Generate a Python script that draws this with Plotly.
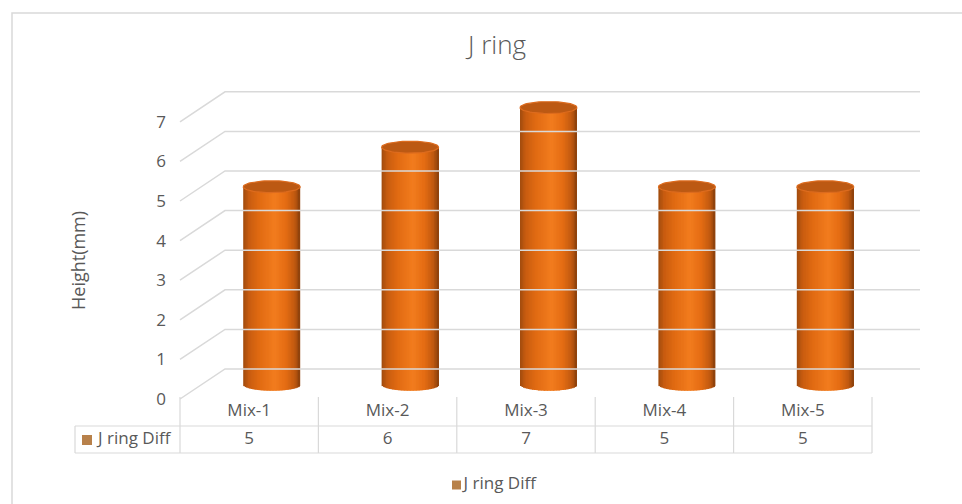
import numpy as np
import plotly.graph_objects as go

# ---- data -------------------------------------------------------------
categories = ["Mix-1", "Mix-2", "Mix-3", "Mix-4", "Mix-5"]
values = [5, 6, 7, 5, 5]
series_name = "J ring Diff"
y_ticks = [0, 1, 2, 3, 4, 5, 6, 7]
chart_title = "J ring"
y_title = "Height(mm)"

# ---- geometry (axis units) ---------------------------------------------
W, H = 962, 504
U_PX = 138.4           # pixels per category slot
V_PX = 39.6            # pixels per value unit
X0_PX, Y0_PX = 180, 399  # front-left corner of the floor
DX = 45 / U_PX         # depth offset of the back wall
DZ = 30 / V_PX
X_END = (920 - X0_PX) / U_PX

def u(px):
    return (px - X0_PX) / U_PX

def v(py):
    return (Y0_PX - py) / V_PX

x_range = [u(0), u(W)]
y_range = [v(H), v(0)]

FONT = "Open Sans"
TXT = "#595959"
GRID = "#D9D9D9"
KEY = "#B8814A"

fig = go.Figure()

# ---- back wall gridlines with side-wall diagonals ----------------------
gx, gy = [], []
for t in y_ticks:
    gx += [0, DX, X_END, None]
    gy += [t, t + DZ, t + DZ, None]
fig.add_trace(go.Scatter(x=gx, y=gy, mode="lines",
                         line=dict(color=GRID, width=1.5),
                         hoverinfo="skip", showlegend=False))

# ---- cylinders: vertical strips with cylindrical shading ---------------
n = len(categories)
centers = np.arange(n) + 0.5 + DX / 2
cw = 57 / U_PX           # cylinder diameter
b0 = 0.36                # floor level at mid-depth
ry = 6 / V_PX            # vertical radius of the end ellipses

stops_t = [-1.0, -0.8, -0.45, 0.1, 0.5, 0.8, 1.0]
stops_c = [(0xA0, 0x4B, 0x0E), (0xC8, 0x5C, 0x10), (0xE0, 0x6A, 0x12),
           (0xF2, 0x7C, 0x1E), (0xE4, 0x6C, 0x13), (0xC2, 0x5A, 0x10),
           (0x8A, 0x40, 0x0B)]

def shade(t):
    rgb = [np.interp(t, stops_t, [c[k] for c in stops_c]) for k in range(3)]
    return "rgb(%d,%d,%d)" % tuple(int(round(c)) for c in rgb)

n_strips = 38
step = cw / n_strips
for k in range(n_strips):
    off = -cw / 2 + k * step
    tc = (off + step / 2) / (cw / 2)
    s = ry * np.sqrt(max(0.0, 1 - tc ** 2))
    width = min(step * 1.7, cw / 2 - off)
    fig.add_trace(go.Bar(
        x=centers, y=[val + s for val in values], base=b0 - s,
        offset=off, width=width,
        marker=dict(color=shade(tc), line=dict(width=0)),
        hoverinfo="skip", showlegend=False))

# top caps
th = np.linspace(0, 2 * np.pi, 73)
ex, ey = [], []
for c, val in zip(centers, values):
    ex += list(c + cw / 2 * np.cos(th)) + [None]
    ey += list(val + b0 + ry * np.sin(th)) + [None]
fig.add_trace(go.Scatter(x=ex, y=ey, mode="lines", fill="toself",
                         fillcolor="#BC5913",
                         line=dict(color="#DC6B1E", width=1.2),
                         hoverinfo="skip", showlegend=False))

# ---- data table ---------------------------------------------------------
r_top, r_mid, r_bot = v(397), v(426), v(453)
key_left = u(75)
tx, ty = [], []
for i in range(n + 1):
    tx += [i, i, None]
    ty += [r_top, r_bot, None]
tx += [key_left, n, None, key_left, n, None, key_left, key_left, None]
ty += [r_mid, r_mid, None, r_bot, r_bot, None, r_mid, r_bot, None]
fig.add_trace(go.Scatter(x=tx, y=ty, mode="lines",
                         line=dict(color=GRID, width=1.2),
                         hoverinfo="skip", showlegend=False))

fig.add_trace(go.Scatter(x=np.arange(n) + 0.5, y=[v(412)] * n,
                         mode="text", text=categories,
                         textfont=dict(family=FONT, size=17, color=TXT),
                         hoverinfo="skip", showlegend=False))
fig.add_trace(go.Scatter(x=np.arange(n) + 0.5, y=[v(440)] * n,
                         mode="text", text=[str(val) for val in values],
                         textfont=dict(family=FONT, size=17, color=TXT),
                         hoverinfo="skip", showlegend=False))

# series key inside the table
fig.add_trace(go.Scatter(x=[u(87)], y=[v(440)], mode="markers",
                         marker=dict(symbol="square", size=10, color=KEY),
                         hoverinfo="skip", showlegend=False))
fig.add_trace(go.Scatter(x=[u(98)], y=[v(440)], mode="text",
                         text=[series_name], textposition="middle right",
                         textfont=dict(family=FONT, size=17, color=TXT),
                         hoverinfo="skip", showlegend=False))

# legend below the chart
fig.add_trace(go.Scatter(x=[u(456.5)], y=[v(485)], mode="markers",
                         marker=dict(symbol="square", size=9, color=KEY),
                         hoverinfo="skip", showlegend=False))
fig.add_trace(go.Scatter(x=[u(463.5)], y=[v(485)], mode="text",
                         text=[series_name], textposition="middle right",
                         textfont=dict(family=FONT, size=17, color=TXT),
                         hoverinfo="skip", showlegend=False))

# carrier for the value axis
fig.add_trace(go.Scatter(x=[0], y=[0], yaxis="y2", mode="markers",
                         marker=dict(opacity=0), hoverinfo="skip",
                         showlegend=False))

fig.update_layout(
    width=W, height=H,
    margin=dict(l=0, r=0, t=0, b=0),
    paper_bgcolor="white", plot_bgcolor="rgba(0,0,0,0)",
    barmode="overlay",
    xaxis=dict(range=x_range, visible=False, fixedrange=True),
    yaxis=dict(range=y_range, visible=False, fixedrange=True),
    yaxis2=dict(range=y_range, overlaying="y", anchor="free",
                position=X0_PX / W, side="left",
                tickvals=y_ticks, showgrid=False, zeroline=False,
                showline=False, ticks="", ticklabelstandoff=14,
                tickfont=dict(family=FONT, size=17, color=TXT),
                fixedrange=True),
    title=dict(text=chart_title, x=497 / W, xanchor="center",
               y=1 - 45 / H, yanchor="middle", yref="container",
               font=dict(family=FONT, size=26, color=TXT, weight=300)),
    annotations=[dict(text=y_title, x=78 / W, y=1 - 261 / H,
                      xref="paper", yref="paper", showarrow=False,
                      textangle=-90, xanchor="center", yanchor="middle",
                      font=dict(family=FONT, size=18, color=TXT))],
    shapes=[dict(type="rect", xref="paper", yref="paper",
                 x0=12 / W, x1=1.2, y0=-0.2, y1=1 - 13 / H,
                 line=dict(color=GRID, width=1.5), layer="below")],
    showlegend=False,
)

fig.write_html("out.html")
